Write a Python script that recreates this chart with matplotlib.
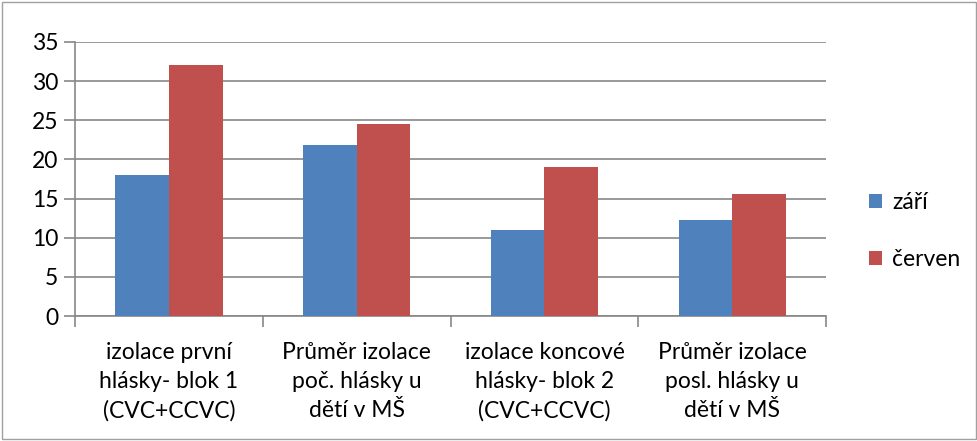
import numpy as np
import matplotlib.pyplot as plt
from matplotlib.patches import Rectangle

categories = ["izolace první\nhlásky- blok 1\n(CVC+CCVC)",
              "Průměr izolace\npoč. hlásky u\ndětí v MŠ",
              "izolace koncové\nhlásky- blok 2\n(CVC+CCVC)",
              "Průměr izolace\nposl. hlásky u\ndětí v MŠ"]
zari = [18, 21.9, 11, 12.2]
cerven = [32, 24.5, 19, 15.6]
series_names = ["září", "červen"]
colors = ["#4f81bd", "#c0504d"]

plt.rcParams['font.family'] = ['Lato', 'DejaVu Sans']

fig = plt.figure(figsize=(9.78, 4.41), dpi=100)
fig.patches.append(Rectangle((0.002, 0.004), 0.996, 0.992, transform=fig.transFigure,
                             fill=False, edgecolor="#a0a0a0", linewidth=1))
ax = fig.add_axes([0.0767, 0.2834, 0.768, 0.6214])

x = np.arange(len(categories))
w = 1 / 3.5
ax.bar(x - w / 2, zari, w, color=colors[0], label=series_names[0], zorder=3)
ax.bar(x + w / 2, cerven, w, color=colors[1], label=series_names[1], zorder=3)

ax.set_xlim(-0.5, len(categories) - 0.5)
ax.set_ylim(0, 35)
ax.set_yticks(range(0, 36, 5))
ax.yaxis.grid(True, color="#878787", linewidth=1.2, zorder=0)
ax.set_xticks(x)
ax.set_xticklabels(categories, fontsize=16.5, linespacing=1.45)
ax.set_xticks(np.arange(-0.5, len(categories), 1), minor=True)
ax.tick_params(axis='x', which='major', length=0, pad=19)
ax.tick_params(axis='x', which='minor', length=8, color="#878787", width=1.2)
ax.tick_params(axis='y', length=8, color="#878787", width=1.2, labelsize=16.5, pad=4)
for s in ["top", "right"]:
    ax.spines[s].set_visible(False)
for s in ["left", "bottom"]:
    ax.spines[s].set_color("#878787")
    ax.spines[s].set_linewidth(1.2)

ax.legend(loc="center left", bbox_to_anchor=(1.03, 0.31), frameon=False, fontsize=16.5,
          handlelength=0.55, handleheight=0.55, labelspacing=1.55, handletextpad=0.45)

fig.savefig("out.png", dpi=100)
